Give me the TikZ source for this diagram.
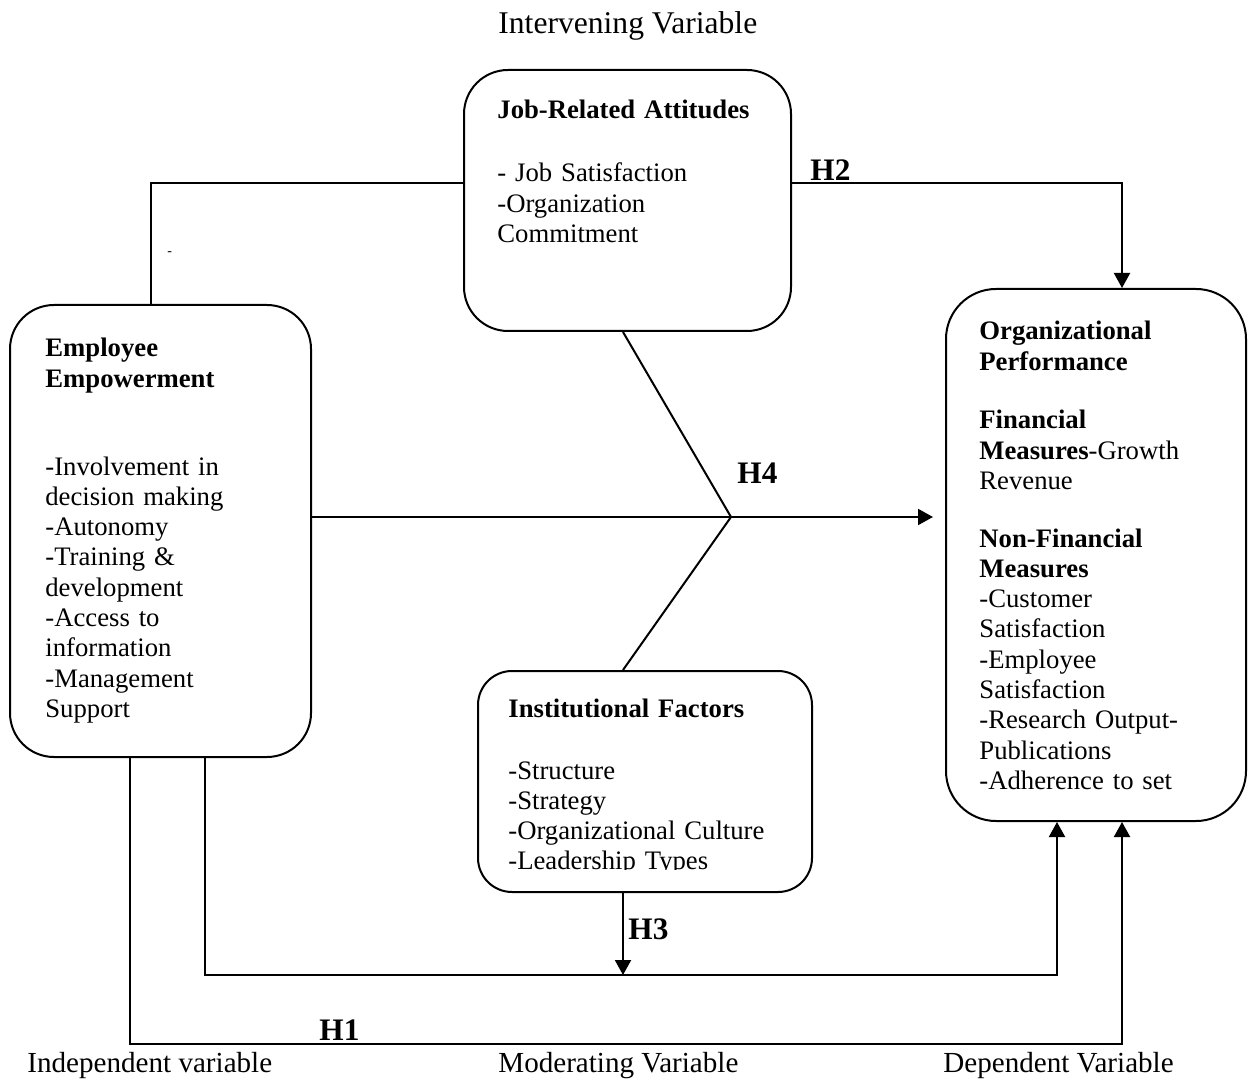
\documentclass[tikz,border=0pt]{standalone}
\usepackage{fontspec}
\setmainfont{Liberation Serif}
\usetikzlibrary{arrows.meta,fit}
\begin{document}
\begin{tikzpicture}[x=0.5pt,y=-0.5pt,
  box/.style={draw, line width=1pt, inner sep=0pt},
  ln/.style={line width=1pt},
  arr/.style={line width=1pt, -{Triangle[length=7.5pt,width=8pt]}},
  txt/.style={anchor=base west, inner sep=0pt, align=left, text width=170pt,
    font=\fontsize{13.35}{15.15}\selectfont},
  lbl/.style={anchor=base west, inner sep=0pt, font=\fontsize{14.55}{17}\selectfont},
  hyp/.style={anchor=base west, inner sep=0pt, font=\fontsize{15.65}{18}\selectfont\bfseries}]
\useasboundingbox (0,0) rectangle (1253,1080);

% boxes
\node[box, rounded corners=22pt, fit={(10,305) (311,757)}] (ee) {};
\node[box, rounded corners=22pt, fit={(464,70) (791,331)}] (jra) {};
\node[box, rounded corners=17pt, fit={(478,671) (812,892)}] (inst) {};
\node[box, rounded corners=25pt, fit={(946,289) (1246,821)}] (op) {};

% box texts
\node[txt] (jraH) at (497,119) {\textbf{Job-Related Attitudes}};
\node[txt] (jraL) at (497,182) {- Job Satisfaction\\-Organization\\Commitment};
\node[txt] (eeH) at (45,357) {\textbf{Employee}\\\textbf{Empowerment}};
\node[txt] (eeL) at (45,475) {-Involvement in\\decision making\\-Autonomy\\-Training \&\\development\\-Access to\\information\\-Management\\Support};
\node[txt] (opH) at (979,340) {\textbf{Organizational}\\\textbf{Performance}};
\node[txt] (opF) at (979,429) {\textbf{Financial}\\\textbf{Measures}-Growth\\Revenue};
\node[txt] (opN) at (979,547) {\textbf{Non-Financial}\\\textbf{Measures}\\-Customer\\Satisfaction\\-Employee\\Satisfaction\\-Research Output-\\Publications\\-Adherence to set};
\node[txt] (instH) at (508,717) {\textbf{Institutional Factors}};
\begin{scope}
\clip (480,740) rectangle (810,869);
\node[txt] (instL) at (508,779) {-Structure\\-Strategy\\-Organizational Culture\\-Leadership Types};
\end{scope}

% outer labels
\node[lbl, font=\fontsize{15.8}{18}\selectfont] (tInt) at (498,34) {Intervening Variable};
\node[lbl] (tInd) at (27,1072) {Independent variable};
\node[lbl] (tMod) at (498,1072) {Moderating Variable};
\node[lbl] (tDep) at (943,1072) {Dependent Variable};
\node[anchor=base west, inner sep=0pt, font=\fontsize{7}{8}\selectfont] (dash) at (167,256) {-};

% hypothesis labels
\node[hyp] (h2) at (810,181) {H2};
\node[hyp] (h4) at (737,484) {H4};
\node[hyp] (h3) at (628,939) {H3};
\node[hyp] (h1) at (319,1040) {H1};

% coordinates
\coordinate (c1) at (151,183);
\coordinate (c2) at (1122,183);
\coordinate (c3) at (731,517);
\coordinate (c6) at (933,517);
\coordinate (mx) at (623,975);
\coordinate (c7) at (205,975);
\coordinate (c8) at (1057,975);
\coordinate (c9) at (130,1044);
\coordinate (c10) at (1122,1044);

% connectors
\draw[ln] (c1 |- ee.north) -- (c1) -- (c1 -| jra.west);
\draw[arr] (jra.east |- c1) -- (c2) -- (c2 |- op.north);
\draw[ln] (mx |- jra.south) -- (c3) -- (mx |- inst.north);
\draw[arr] (ee.east |- c3) -- (c6);
\draw[arr] (mx |- inst.south) -- (mx);
\draw[arr] (c7 |- ee.south) -- (c7) -- (c8) -- (c8 |- op.south);
\draw[arr] (c9 |- ee.south) -- (c9) -- (c10) -- (c10 |- op.south);
\end{tikzpicture}
\end{document}
